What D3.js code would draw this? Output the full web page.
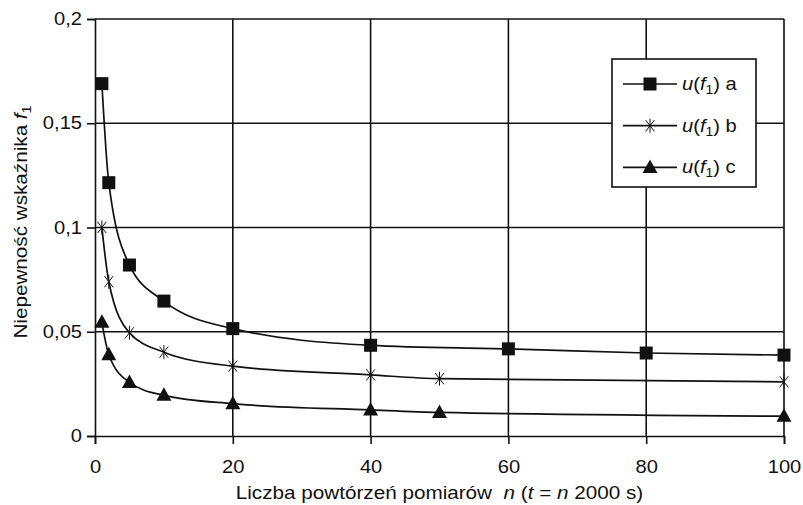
<!DOCTYPE html>
<html>
<head>
<meta charset="utf-8">
<script src="https://cdn.jsdelivr.net/npm/d3@7/dist/d3.min.js"></script>
<style>
  html, body { margin: 0; padding: 0; background: #fff; }
  svg { display: block; }
  text { font-family: "Liberation Sans", Arial, sans-serif; fill: #111; }
</style>
</head>
<body>
<svg id="chart" width="803" height="505"></svg>
<script>
// Uncertainty of indicator f1 vs. number of repeated measurements n
const nA = [1, 2, 5, 10, 20, 40, 60, 80, 100];
const uA = [0.169, 0.1215, 0.082, 0.0647, 0.0515, 0.0435, 0.0418, 0.0398, 0.0388];

const nB = [1, 2, 5, 10, 20, 40, 50, 100];
const uB = [0.1, 0.074, 0.0495, 0.0402, 0.0335, 0.0293, 0.0275, 0.026];

const nC = [1, 2, 5, 10, 20, 40, 50, 100];
const uC = [0.0545, 0.039, 0.0257, 0.0195, 0.0155, 0.0125, 0.0113, 0.0095];

const xTicks = [0, 20, 40, 60, 80, 100];
const yTicks = [0, 0.05, 0.1, 0.15, 0.2];
const yTickLabels = ["0", "0,05", "0,1", "0,15", "0,2"];
const seriesNames = ["a", "b", "c"];

const W = 803, H = 505;
const margin = { left: 95, right: 19, top: 19, bottom: 69 };
const SX = 1.15;          // horizontal widening of the lettering
const INK = "#111";

const svg = d3.select("#chart");
svg.append("rect").attr("width", W).attr("height", H).attr("fill", "#fff");

const x = d3.scaleLinear().domain([0, 100]).range([margin.left, W - margin.right]);
const y = d3.scaleLinear().domain([0, 0.2]).range([H - margin.bottom, margin.top]);

// grid
const grid = svg.append("g").attr("stroke", INK).attr("stroke-width", 1.6);
grid.selectAll("line.h").data(yTicks.slice(1)).join("line")
  .attr("x1", x(0)).attr("x2", x(100))
  .attr("y1", d => y(d)).attr("y2", d => y(d));
grid.selectAll("line.v").data(xTicks.slice(1)).join("line")
  .attr("y1", y(0)).attr("y2", y(0.2))
  .attr("x1", d => x(d)).attr("x2", d => x(d));

// widen a text around its own anchor point
function widen(sel) {
  sel.each(function () {
    const t = d3.select(this);
    const tx = +t.attr("x") || 0;
    t.attr("transform", `translate(${tx},0) scale(${SX},1) translate(${-tx},0)`);
  });
}

// axes
const xAxis = d3.axisBottom(x).tickValues(xTicks).tickSize(8).tickPadding(17)
  .tickFormat(d3.format("d"));
const gx = svg.append("g").attr("transform", `translate(0,${y(0)})`).call(xAxis);

const yAxis = d3.axisLeft(y).tickValues(yTicks).tickSize(8).tickPadding(5)
  .tickFormat((d, i) => yTickLabels[i]);
const gy = svg.append("g").attr("transform", `translate(${x(0)},0)`).call(yAxis);

[gx, gy].forEach(g => {
  g.select(".domain").attr("stroke", INK).attr("stroke-width", 1.6);
  g.selectAll(".tick line").attr("stroke", INK).attr("stroke-width", 1.6);
  g.selectAll(".tick text").attr("font-size", 17.5).attr("fill", INK)
    .attr("font-family", "Liberation Sans, Arial, sans-serif").call(widen);
});

// curves
const lineGen = d3.line().x(d => x(d[0])).y(d => y(d[1])).curve(d3.curveMonotoneX);
const series = [
  { n: nA, u: uA, sym: "square" },
  { n: nB, u: uB, sym: "asterisk" },
  { n: nC, u: uC, sym: "triangle" }
];
series.forEach(s => {
  const pts = s.n.map((n, i) => [n, s.u[i]]);
  svg.append("path").datum(pts).attr("d", lineGen)
    .attr("fill", "none").attr("stroke", INK).attr("stroke-width", 1.7);
});

// marker painter
function marker(g, kind, cx, cy) {
  if (kind === "square") {
    g.append("rect").attr("x", cx - 6.5).attr("y", cy - 6.5)
      .attr("width", 13).attr("height", 13).attr("fill", INK);
  } else if (kind === "triangle") {
    g.append("path")
      .attr("d", `M${cx},${cy - 8}L${cx + 7.5},${cy + 5.5}L${cx - 7.5},${cy + 5.5}Z`)
      .attr("fill", INK);
  } else {
    const r = 7, dx = r * 0.62, dy = r * 0.8;
    g.append("path")
      .attr("d", `M${cx},${cy - r}L${cx},${cy + r}` +
                 `M${cx - dx},${cy - dy}L${cx + dx},${cy + dy}` +
                 `M${cx - dx},${cy + dy}L${cx + dx},${cy - dy}`)
      .attr("stroke", INK).attr("stroke-width", 1).attr("fill", "none");
  }
}

const mk = svg.append("g");
series.forEach(s => {
  s.n.forEach((n, i) => marker(mk, s.sym, x(n), y(s.u[i])));
});

// legend
const lg = svg.append("g").attr("transform", "translate(612,59)");
lg.append("rect").attr("width", 144).attr("height", 128)
  .attr("fill", "#fff").attr("stroke", INK).attr("stroke-width", 1.6);
series.forEach((s, i) => {
  const ly = 25 + i * 41.7;
  lg.append("line").attr("x1", 11).attr("x2", 65).attr("y1", ly).attr("y2", ly)
    .attr("stroke", INK).attr("stroke-width", 1.7);
  marker(lg, s.sym, 38, ly);
  const t = lg.append("text").attr("font-size", 17.5)
    .attr("transform", `translate(70,${ly + 6}) scale(${SX},1)`);
  t.append("tspan").attr("font-style", "italic").text("u");
  t.append("tspan").text("(");
  t.append("tspan").attr("font-style", "italic").text("f");
  t.append("tspan").attr("font-size", 12).attr("dy", 4).text("1");
  t.append("tspan").attr("dy", -4).text(") " + seriesNames[i]);
});

// axis titles
const xt = svg.append("text").attr("font-size", 18).attr("text-anchor", "middle")
  .attr("transform", `translate(${(x(0) + x(100)) / 2},499) scale(${SX},1)`)
  .style("white-space", "pre");
xt.append("tspan").text("Liczba powtórzeń pomiarów  ");
xt.append("tspan").attr("font-style", "italic").text("n");
xt.append("tspan").text(" (");
xt.append("tspan").attr("font-style", "italic").text("t");
xt.append("tspan").text(" = ");
xt.append("tspan").attr("font-style", "italic").text("n");
xt.append("tspan").text(" 2000 s)");

const yt = svg.append("text").attr("font-size", 18).attr("text-anchor", "middle")
  .attr("transform", `translate(27,222) rotate(-90) scale(${SX},1)`);
yt.append("tspan").text("Niepewność wskaźnika ");
yt.append("tspan").attr("font-style", "italic").text("f");
yt.append("tspan").attr("font-size", 12.5).attr("dy", 4).text("1");
</script>
</body>
</html>
